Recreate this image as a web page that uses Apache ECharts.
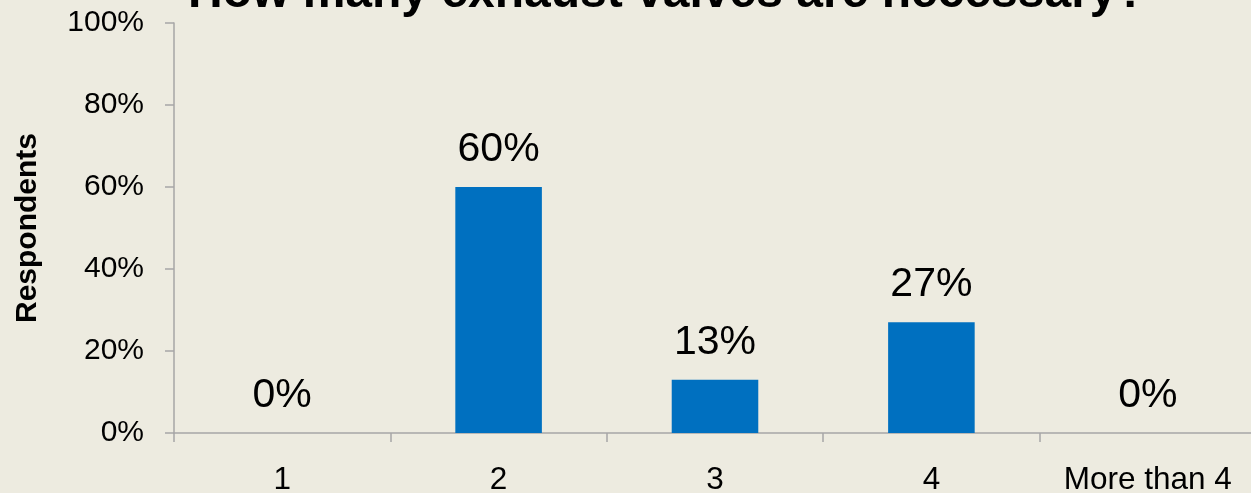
<!DOCTYPE html>
<html>
<head>
<meta charset="utf-8">
<script src="https://cdn.jsdelivr.net/npm/echarts@6/dist/echarts.min.js"></script>
<style>
html,body{margin:0;padding:0;background:#EDEBE0;}
#chart{width:1251px;height:493px;}
</style>
</head>
<body>
<div id="chart"></div>
<script>
const titleText = 'How many exhaust valves are necessary?';
const categories = ['1', '2', '3', '4', 'More than 4'];
const respondents = [0, 60, 13, 27, 0];
const yTicks = [0, 20, 40, 60, 80, 100];

const FONT = "'Liberation Sans', Arial, sans-serif";
const chart = echarts.init(document.getElementById('chart'), null, {renderer: 'canvas'});
chart.setOption({
  backgroundColor: '#EDEBE0',
  animation: false,
  title: {
    text: titleText,
    left: 188,
    top: -30,
    padding: 0,
    textStyle: {fontFamily: FONT, fontSize: 48, fontWeight: 'bold', color: '#000'}
  },
  grid: {left: 174, top: 23, width: 1082, height: 410, containLabel: false, outerBoundsMode: 'none'},
  xAxis: {
    type: 'category',
    data: categories,
    boundaryGap: true,
    axisLine: {show: true, lineStyle: {color: '#A6A6A6', width: 1.5}},
    axisTick: {show: true, length: 9, alignWithLabel: false, lineStyle: {color: '#A6A6A6', width: 1.5}},
    axisLabel: {margin: 31, fontFamily: FONT, fontSize: 31.5, color: '#000', interval: 0}
  },
  yAxis: {
    type: 'value',
    min: yTicks[0],
    max: yTicks[yTicks.length - 1],
    interval: 20,
    name: 'Respondents',
    nameLocation: 'middle',
    nameGap: 131,
    nameRotate: 90,
    nameTextStyle: {fontFamily: FONT, fontSize: 30, fontWeight: 'bold', color: '#000'},
    axisLine: {show: true, lineStyle: {color: '#A6A6A6', width: 1.5}},
    axisTick: {show: true, length: 9, lineStyle: {color: '#A6A6A6', width: 1.5}},
    splitLine: {show: false},
    axisLabel: {margin: 30, fontFamily: FONT, fontSize: 30, color: '#000', formatter: '{value}%'}
  },
  series: [{
    type: 'bar',
    data: respondents,
    barWidth: '40%',
    itemStyle: {color: '#0070C0'},
    label: {
      show: true,
      position: 'top',
      distance: 17,
      formatter: '{c}%',
      fontFamily: FONT,
      fontSize: 41,
      color: '#000'
    }
  }]
});
</script>
</body>
</html>
